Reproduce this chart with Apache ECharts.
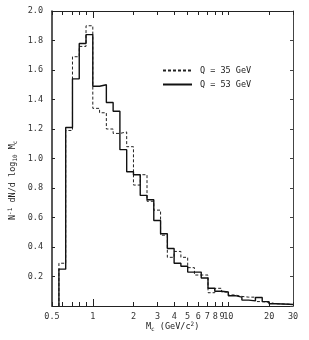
<!DOCTYPE html>
<html>
<head>
<meta charset="utf-8">
<script src="https://cdn.jsdelivr.net/npm/echarts@6/dist/echarts.min.js"></script>
<style>
html,body{margin:0;padding:0;background:#fff;}
#c{width:309px;height:340px;}
</style>
</head>
<body>
<div id="c"></div>
<script>
// Bin edges in log10(Mc), last edge = log10(30) (axis end)
const binEdgesLog10 = [-0.25,-0.20,-0.15,-0.10,-0.05,0.00,0.05,0.10,0.15,0.20,0.25,0.30,0.35,0.40,0.45,0.50,0.55,0.60,0.65,0.70,0.75,0.80,0.85,0.90,0.95,1.00,1.05,1.10,1.15,1.20,1.25,1.30,1.35,1.40,1.45,1.4771];
// Q = 35 GeV (dashed)
const q35 = [0.29,1.19,1.69,1.76,1.90,1.34,1.31,1.20,1.17,1.18,1.08,0.82,0.89,0.71,0.65,0.48,0.33,0.37,0.33,0.26,0.21,0.21,0.09,0.12,0.095,0.075,0.065,0.06,0.06,0.03,0.025,0.015,0.014,0.012,0.01];
// Q = 53 GeV (solid)
const q53 = [0.25,1.21,1.54,1.78,1.84,1.49,1.50,1.38,1.32,1.06,0.91,0.89,0.75,0.72,0.58,0.49,0.39,0.29,0.27,0.23,0.23,0.19,0.12,0.10,0.095,0.07,0.06,0.04,0.035,0.058,0.03,0.015,0.014,0.012,0.01];
const xTickValues = [0.5,1,2,3,4,5,6,7,8,9,10,20,30];
const xTickLabels = ['0.5','1','2','3','4','5','6','7','8','9','10','20','30'];
const xMinorTicks = [0.6,0.7,0.8,0.9];
const xLongTicks = [1];

const L = Math.log10;
function stepData(vals){
  const pts = [[binEdgesLog10[0], 0]];
  for (let i = 0; i < vals.length; i++) pts.push([binEdgesLog10[i], vals[i]]);
  pts.push([binEdgesLog10[vals.length], vals[vals.length-1]]);
  return pts;
}
const font = 'DejaVu Sans Mono';
const ink = '#222';
const shortTicks = xTickValues.concat(xMinorTicks).filter(v => xLongTicks.indexOf(v) < 0).map(L);
const longTicks = xLongTicks.map(L);
const xmin = L(0.5), xmax = L(30);
function xAx(pos, ticks, len, opts){
  return Object.assign({
    type:'value', position:pos, min:xmin, max:xmax,
    axisLine:{show:false, onZero:false},
    axisTick:{show:true, inside:true, length:len, customValues:ticks, lineStyle:{color:ink, width:1}},
    axisLabel:{show:false},
    splitLine:{show:false}
  }, opts||{});
}
const chart = echarts.init(document.getElementById('c'), null, {renderer:'canvas'});
chart.setOption({
  animation:false,
  backgroundColor:'#fff',
  grid:{left:52, right:16, top:11, bottom:34, containLabel:false},
  legend:{
    orient:'vertical', left:157, top:61, itemWidth:29, itemHeight:8, itemGap:5,
    itemStyle:{color:'rgba(0,0,0,0)', borderWidth:0},
    textStyle:{fontFamily:font, fontSize:8.5, color:'#222', padding:[0,0,0,3]},
    data:['Q = 35 GeV','Q = 53 GeV']
  },
  xAxis:[
    xAx('bottom', shortTicks, 4, {
      axisLine:{show:true, onZero:false, lineStyle:{color:ink, width:1.2}},
      axisLabel:{show:true, customValues:xTickValues.map(L), margin:6,
        fontFamily:font, fontSize:8.5, color:'#333',
        formatter:function(v){
          for (let i=0;i<xTickValues.length;i++){ if (Math.abs(L(xTickValues[i])-v)<1e-6) return xTickLabels[i]; }
          return '';
        }}
    }),
    xAx('bottom', longTicks, 7),
    xAx('top', shortTicks, 4, {axisLine:{show:true, onZero:false, lineStyle:{color:ink, width:1.2}}}),
    xAx('top', longTicks, 7)
  ],
  yAxis:[
    {type:'value', position:'left', min:0, max:2, interval:0.2,
     axisLine:{show:true, onZero:false, lineStyle:{color:ink, width:1.5}},
     axisTick:{show:true, inside:true, length:3, lineStyle:{color:ink}},
     axisLabel:{margin:9, fontFamily:font, fontSize:8.5, color:'#333',
       formatter:function(v){ return v===0 ? '' : v.toFixed(1); }},
     splitLine:{show:false}},
    {type:'value', position:'right', min:0, max:2, interval:0.2,
     axisLine:{show:true, onZero:false, lineStyle:{color:'#444', width:1}},
     axisTick:{show:true, inside:true, length:3, lineStyle:{color:'#444'}},
     axisLabel:{show:false}, splitLine:{show:false}}
  ],
  series:[
    {name:'Q = 35 GeV', type:'line', step:'end', symbol:'none', xAxisIndex:0, yAxisIndex:0,
     data:stepData(q35), lineStyle:{color:ink, width:1, type:[3,2]}, itemStyle:{color:ink}},
    {name:'Q = 53 GeV', type:'line', step:'end', symbol:'none', xAxisIndex:0, yAxisIndex:0,
     data:stepData(q53), lineStyle:{color:'#111', width:1.4, type:'solid'}, itemStyle:{color:'#111'}}
  ],
  graphic:[
    {type:'text', left:146, top:321,
     style:{text:'M{sub|c} (GeV/c{sup|2})', fill:'#222', font:'8.5px "DejaVu Sans Mono"',
       rich:{sub:{fontSize:6, fontFamily:font, fill:'#222', padding:[5,0,0,0]},
             sup:{fontSize:6, fontFamily:font, fill:'#222', padding:[0,0,5,0]}}}},
    {type:'text', x:13, y:220, rotation:Math.PI/2,
     style:{text:'N{sup|-1} dN/d log{sub|10} M{sub|c}', fill:'#222', font:'8.5px "DejaVu Sans Mono"',
       align:'left', verticalAlign:'middle',
       rich:{sub:{fontSize:6, fontFamily:font, fill:'#222', padding:[5,0,0,0]},
             sup:{fontSize:6, fontFamily:font, fill:'#222', padding:[0,0,5,0]}}}}
  ]
});
</script>
</body>
</html>
